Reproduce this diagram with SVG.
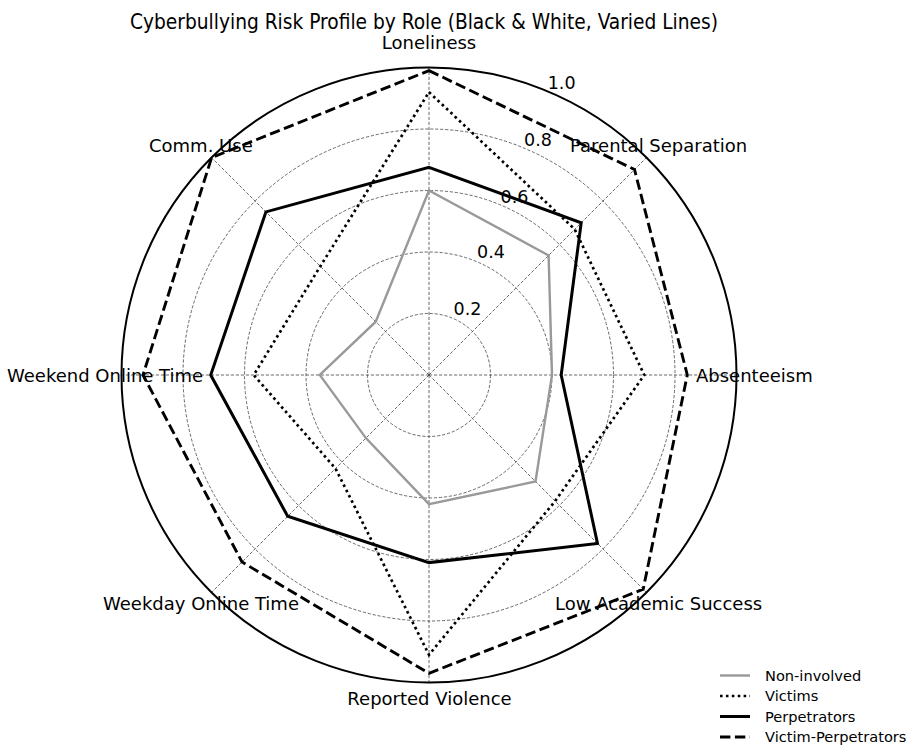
<svg xmlns="http://www.w3.org/2000/svg" width="915" height="752" viewBox="0 0 915 752">
<style>
text{font-family:"DejaVu Sans","Liberation Sans",sans-serif;fill:#000}
.lab{font-size:18px}
.tick{font-size:17.5px}
.leg{font-size:14.6px}
.ring{fill:none;stroke:#444;stroke-width:0.8;stroke-dasharray:3.2 1.8}
.spoke{stroke:#444;stroke-width:0.8;stroke-dasharray:3.2 1.8}
.non{fill:none;stroke:#999;stroke-width:2.4;stroke-linejoin:miter}
.vic{fill:none;stroke:#000;stroke-width:2.7;stroke-dasharray:2.6 3.3}
.per{fill:none;stroke:#000;stroke-width:3;stroke-linejoin:miter}
.vp{fill:none;stroke:#000;stroke-width:2.9;stroke-dasharray:10.4 4.5}
</style>
<rect width="915" height="752" fill="#fff"/>
<text x="130" y="29" font-size="22" font-stretch="condensed" textLength="588" lengthAdjust="spacingAndGlyphs">Cyberbullying Risk Profile by Role (Black &amp; White, Varied Lines)</text>
<g id="grid">
<circle class="ring" cx="429" cy="375" r="61.5"/>
<circle class="ring" cx="429" cy="375" r="123"/>
<circle class="ring" cx="429" cy="375" r="184.5"/>
<circle class="ring" cx="429" cy="375" r="246"/>
<line class="spoke" x1="429" y1="375" x2="429" y2="67.5"/>
<line class="spoke" x1="429" y1="375" x2="646.4" y2="157.6"/>
<line class="spoke" x1="429" y1="375" x2="736.5" y2="375"/>
<line class="spoke" x1="429" y1="375" x2="646.4" y2="592.4"/>
<line class="spoke" x1="429" y1="375" x2="429" y2="682.5"/>
<line class="spoke" x1="429" y1="375" x2="211.6" y2="592.4"/>
<line class="spoke" x1="429" y1="375" x2="121.5" y2="375"/>
<line class="spoke" x1="429" y1="375" x2="211.6" y2="157.6"/>
<circle cx="429" cy="375" r="307.5" fill="none" stroke="#000" stroke-width="2"/>
</g>
<g id="connectors">
<polygon id="non-involved" class="non" points="429,190.5 548.6,255.4 552,375 535.5,481.5 429,504.2 365.9,438.1 319.8,375 375.7,321.7"/>
<polygon id="victims" class="vic" points="429,92.1 574.7,229.3 644.3,375 555.1,501.1 429,654.8 335.5,468.5 253.7,375 320.3,266.3"/>
<polygon id="perpetrators" class="per" points="429,167.4 581.2,222.8 561.2,375 597.5,543.5 429,562.6 287.7,516.3 210.7,375 265.9,211.9"/>
<polygon id="victim-perpetrators" class="vp" points="429,70.6 634.5,169.5 687.3,375 643.2,589.2 429,673.3 242,562 143,375 211.6,157.6"/>
</g>
<g id="ticks">
<text class="tick" x="453.5" y="315.2">0.2</text>
<text class="tick" x="477.1" y="258.4">0.4</text>
<text class="tick" x="500.6" y="202.5">0.6</text>
<text class="tick" x="524.1" y="145.7">0.8</text>
<text class="tick" x="547.7" y="88.9">1.0</text>
</g>
<g id="axis-labels">
<text class="lab" x="429" y="49" text-anchor="middle">Loneliness</text>
<text class="lab" x="570" y="152">Parental Separation</text>
<text class="lab" x="696" y="382">Absenteeism</text>
<text class="lab" x="555" y="610">Low Academic Success</text>
<text class="lab" x="429.5" y="705" text-anchor="middle">Reported Violence</text>
<text class="lab" x="103" y="610">Weekday Online Time</text>
<text class="lab" x="7" y="382">Weekend Online Time</text>
<text class="lab" x="149" y="152">Comm. Use</text>
</g>
<g id="legend">
<line x1="720" y1="675.5" x2="750" y2="675.5" stroke="#999" stroke-width="2.4"/>
<text class="leg" x="765" y="680.5">Non-involved</text>
<line x1="720" y1="696" x2="750" y2="696" stroke="#000" stroke-width="2.7" stroke-dasharray="2.6 3.3"/>
<text class="leg" x="765" y="701">Victims</text>
<line x1="720" y1="716.5" x2="750" y2="716.5" stroke="#000" stroke-width="3"/>
<text class="leg" x="765" y="721.5">Perpetrators</text>
<line x1="720" y1="737" x2="750" y2="737" stroke="#000" stroke-width="2.9" stroke-dasharray="10.4 4.5"/>
<text class="leg" x="765" y="742">Victim-Perpetrators</text>
</g>
</svg>
